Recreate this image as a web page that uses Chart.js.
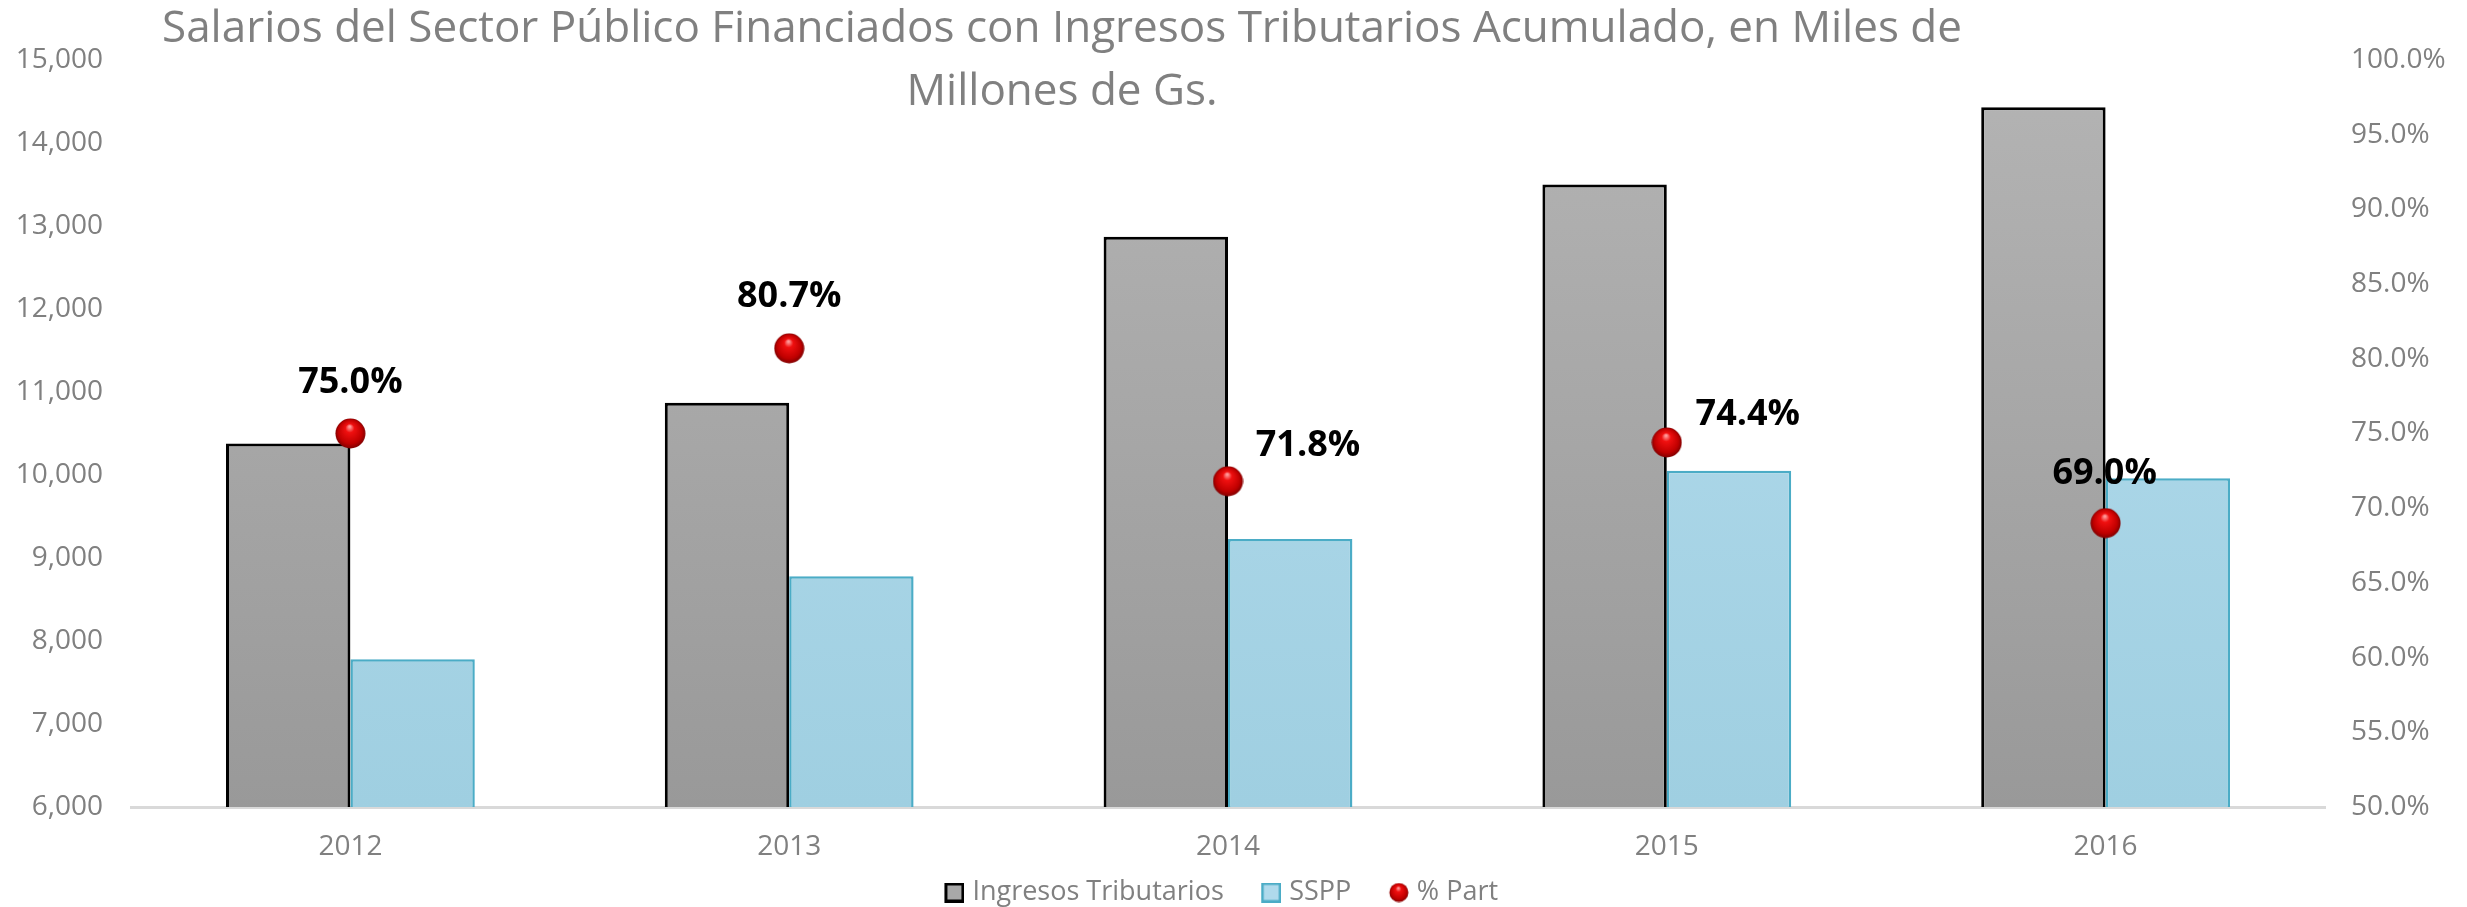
<!DOCTYPE html>
<html>
<head>
<meta charset="utf-8">
<script src="https://cdn.jsdelivr.net/npm/chart.js@4.4.1/dist/chart.umd.min.js"></script>
<style>
  html, body { margin: 0; padding: 0; background: #fff; }
  #wrap { width: 2467px; height: 907px; }
</style>
</head>
<body>
<div id="wrap"><canvas id="salariosChart" width="2467" height="907"></canvas></div>
<script>
// datos
const years = ["2012", "2013", "2014", "2015", "2016"];
const ingresosTributarios = [10380, 10870, 12870, 13500, 14430];
const sspp = [7780, 8780, 9230, 10050, 9960];
const partPct = [75.0, 80.7, 71.8, 74.4, 69.0];
const leftTicks = [6000, 15000, 1000];   // min, max, step
const rightTicks = [50, 100, 5];
const titleLines = [
  "Salarios del Sector Público Financiados con Ingresos Tributarios Acumulado, en Miles de",
  "Millones de Gs."
];

// desplazamiento de las etiquetas de % respecto al punto
const labelOffsets = [[0, -51], [0, -52], [80, -36], [81, -28], [-1, -49]];

const GREY_TXT = "#808080";
const FONT = "'Open Sans', sans-serif";

function paintBall(g, cx, cy, r) {
  const grad = g.createRadialGradient(cx - r * 0.05, cy - r * 0.45, r * 0.05, cx, cy, r);
  grad.addColorStop(0, "#ff9a9a");
  grad.addColorStop(0.25, "#f01010");
  grad.addColorStop(0.75, "#c00000");
  grad.addColorStop(1, "#7a0000");
  g.fillStyle = grad;
  g.beginPath();
  g.arc(cx, cy, r - 0.5, 0, Math.PI * 2);
  g.fill();
}

function makeBall(d) {
  const c = document.createElement("canvas");
  c.width = d;
  c.height = d;
  paintBall(c.getContext("2d"), d / 2, d / 2, d / 2);
  return c;
}

// icono de leyenda: margen transparente a la izquierda, simbolo de 20px a la derecha
function makeLegendIcon(kind, fill, stroke, lw) {
  const c = document.createElement("canvas");
  c.width = 51;
  c.height = 20;
  const g = c.getContext("2d");
  if (kind === "ball") {
    paintBall(g, 41, 10, 10);
  } else {
    g.fillStyle = fill;
    g.fillRect(31, 0, 20, 20);
    g.strokeStyle = stroke;
    g.lineWidth = lw;
    g.strokeRect(31 + lw / 2, lw / 2, 20 - lw, 20 - lw);
  }
  return c;
}

function vGrad(top, bottom) {
  return (ctx) => {
    const area = ctx.chart.chartArea;
    if (!area) return bottom;
    const g = ctx.chart.ctx.createLinearGradient(0, area.top, 0, area.bottom);
    g.addColorStop(0, top);
    g.addColorStop(1, bottom);
    return g;
  };
}

const ballPoint = makeBall(31);
const legendIcons = [
  makeLegendIcon("box", "#a8a8a8", "#000000", 3),
  makeLegendIcon("box", "#b0daec", "#4bacc6", 2.5),
  makeLegendIcon("ball")
];

const titlePlugin = {
  id: "overTitle",
  afterDraw(chart) {
    const c = chart.ctx;
    c.save();
    c.font = "44px " + FONT;
    c.fillStyle = GREY_TXT;
    c.textAlign = "center";
    c.textBaseline = "middle";
    c.fillText(titleLines[0], 1062, 29);
    c.fillText(titleLines[1], 1062, 92);
    c.restore();
  }
};

const pctLabels = {
  id: "pctLabels",
  afterDatasetsDraw(chart) {
    const meta = chart.getDatasetMeta(2);
    const c = chart.ctx;
    c.save();
    c.font = "bold 36px " + FONT;
    c.fillStyle = "#000";
    c.textAlign = "center";
    c.textBaseline = "middle";
    meta.data.forEach((pt, i) => {
      const off = labelOffsets[i];
      c.fillText(partPct[i].toFixed(1) + "%", pt.x + off[0], pt.y + off[1]);
    });
    c.restore();
  }
};

new Chart(document.getElementById("salariosChart"), {
  type: "bar",
  data: {
    labels: years,
    datasets: [
      {
        label: "Ingresos Tributarios",
        data: ingresosTributarios,
        yAxisID: "y",
        backgroundColor: vGrad("#b4b4b4", "#999999"),
        borderColor: "#000000",
        borderWidth: 3,
        categoryPercentage: 0.567,
        barPercentage: 1.0,
        order: 1
      },
      {
        label: "SSPP",
        data: sspp,
        yAxisID: "y",
        backgroundColor: vGrad("#b6ddee", "#9fcfe1"),
        borderColor: "#4bacc6",
        borderWidth: 2.5,
        categoryPercentage: 0.567,
        barPercentage: 1.0,
        order: 1
      },
      {
        type: "line",
        label: "% Part",
        data: partPct,
        yAxisID: "y1",
        showLine: false,
        pointStyle: ballPoint,
        pointRadius: 15,
        order: 0
      }
    ]
  },
  options: {
    responsive: false,
    animation: false,
    devicePixelRatio: 1,
    layout: { padding: { top: 60, left: -50, right: 0, bottom: -9 } },
    plugins: {
      tooltip: { enabled: false },
      title: { display: false },
      legend: {
        position: "bottom",
        labels: {
          usePointStyle: true,
          boxHeight: 20,
          pointStyleWidth: 40,
          padding: 12,
          color: GREY_TXT,
          font: { family: FONT, size: 27 },
          sort: (a, b) => a.datasetIndex - b.datasetIndex,
          generateLabels(chart) {
            return chart.data.datasets.map((ds, i) => ({
              text: ds.label,
              datasetIndex: i,
              pointStyle: legendIcons[i],
              fontColor: GREY_TXT,
              hidden: false
            }));
          }
        }
      }
    },
    scales: {
      x: {
        grid: { display: false },
        border: { display: true, color: "#d9d9d9", width: 3 },
        ticks: { color: GREY_TXT, font: { family: FONT, size: 28 }, padding: 15 },
        afterFit(scale) { scale.height = 60; }
      },
      y: {
        position: "left",
        min: leftTicks[0],
        max: leftTicks[1],
        grid: { display: false },
        border: { display: false },
        ticks: {
          stepSize: leftTicks[2],
          color: GREY_TXT,
          padding: 20,
          font: { family: FONT, size: 28 },
          callback: (v) => v.toLocaleString("en-US")
        },
        afterFit(scale) { scale.width = 181; }
      },
      y1: {
        position: "right",
        min: rightTicks[0],
        max: rightTicks[1],
        grid: { display: false },
        border: { display: false },
        ticks: {
          stepSize: rightTicks[2],
          color: GREY_TXT,
          padding: 18,
          font: { family: FONT, size: 28 },
          callback: (v) => v.toFixed(1) + "%"
        },
        afterFit(scale) { scale.width = 142; }
      }
    }
  },
  plugins: [pctLabels, titlePlugin]
});
</script>
</body>
</html>
